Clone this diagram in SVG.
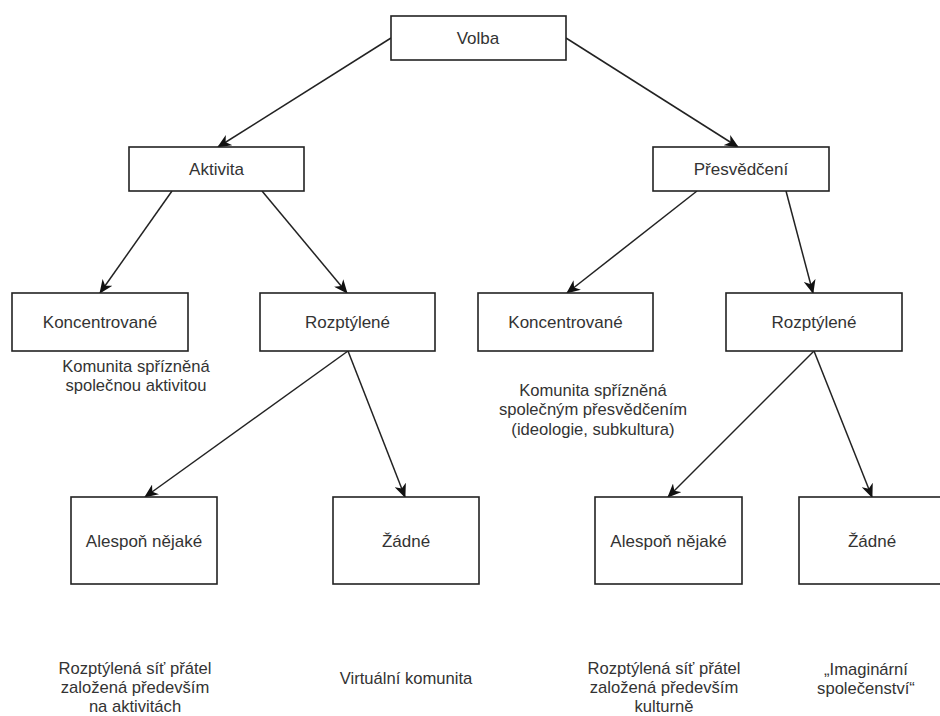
<svg xmlns="http://www.w3.org/2000/svg" width="940" height="716" viewBox="0 0 940 716">
<style>
.box{fill:#fff;stroke:#222;stroke-width:1.6}
.t{font-family:"Liberation Sans",Arial,sans-serif;font-size:17px;fill:#333;text-anchor:middle;dominant-baseline:central}
.n{font-size:16.6px}
.c{fill:none;stroke:#222;stroke-width:1.5}
</style>
<defs>
<marker id="a" markerUnits="userSpaceOnUse" markerWidth="14" markerHeight="12" viewBox="0 0 14 12" refX="13" refY="6" orient="auto">
<path d="M0,0 L14,6 L0,12 L4,6 z" fill="#111"/>
</marker>
</defs>
<rect width="940" height="716" fill="#fff"/>
<g id="connectors">
<path class="c" marker-end="url(#a)" d="M391,38 L218,147"/>
<path class="c" marker-end="url(#a)" d="M566,38 L738,147"/>
<path class="c" marker-end="url(#a)" d="M172,191 L100,293"/>
<path class="c" marker-end="url(#a)" d="M262,191 L347,293"/>
<path class="c" marker-end="url(#a)" d="M697,191 L567,293"/>
<path class="c" marker-end="url(#a)" d="M786,191 L813,293"/>
<path class="c" marker-end="url(#a)" d="M348,351 L145,497"/>
<path class="c" marker-end="url(#a)" d="M348,351 L405,497"/>
<path class="c" marker-end="url(#a)" d="M814,351 L668,497"/>
<path class="c" marker-end="url(#a)" d="M814,351 L872,497"/>
</g>
<g id="volba"><rect class="box" x="391" y="16" width="175" height="44"/><text class="t" x="478" y="38">Volba</text></g>
<g id="aktivita"><rect class="box" x="129" y="147" width="175" height="44"/><text class="t" x="216.5" y="169">Aktivita</text></g>
<g id="presvedceni"><rect class="box" x="653" y="147" width="176" height="44"/><text class="t" x="741" y="169">Přesvědčení</text></g>
<g id="koncentrovane-a"><rect class="box" x="12" y="293" width="176" height="58"/><text class="t" x="100" y="322">Koncentrované</text></g>
<g id="rozptylene-a"><rect class="box" x="260" y="293" width="175" height="58"/><text class="t" x="347.5" y="322">Rozptýlené</text></g>
<g id="koncentrovane-p"><rect class="box" x="478" y="293" width="175" height="58"/><text class="t" x="565.5" y="322">Koncentrované</text></g>
<g id="rozptylene-p"><rect class="box" x="726" y="293" width="176" height="58"/><text class="t" x="814" y="322">Rozptýlené</text></g>
<g id="alespon-a"><rect class="box" x="71" y="497" width="146" height="87"/><text class="t" x="144" y="541">Alespoň nějaké</text></g>
<g id="zadne-a"><rect class="box" x="333" y="497" width="146" height="87"/><text class="t" x="406" y="541">Žádné</text></g>
<g id="alespon-p"><rect class="box" x="595" y="497" width="147" height="87"/><text class="t" x="668.5" y="541">Alespoň nějaké</text></g>
<g id="zadne-p"><rect class="box" x="799" y="497" width="146" height="87"/><text class="t" x="872" y="541">Žádné</text></g>
<g id="note-aktivita"><text class="t n" x="136" y="366">Komunita spřízněná</text><text class="t n" x="136" y="385">společnou aktivitou</text></g>
<g id="note-presvedceni"><text class="t n" x="593" y="390">Komunita spřízněná</text><text class="t n" x="593" y="409.5">společným přesvědčením</text><text class="t n" x="593" y="429">(ideologie, subkultura)</text></g>
<g id="note-alespon-a"><text class="t n" x="135" y="668">Rozptýlená síť přátel</text><text class="t n" x="135" y="687">založená především</text><text class="t n" x="135" y="706">na aktivitách</text></g>
<g id="note-zadne-a"><text class="t n" x="406" y="678">Virtuální komunita</text></g>
<g id="note-alespon-p"><text class="t n" x="664" y="668">Rozptýlená síť přátel</text><text class="t n" x="664" y="687">založená především</text><text class="t n" x="664" y="706">kulturně</text></g>
<g id="note-zadne-p"><text class="t n" x="866" y="669">„Imaginární</text><text class="t n" x="866" y="688">společenství“</text></g>
</svg>
